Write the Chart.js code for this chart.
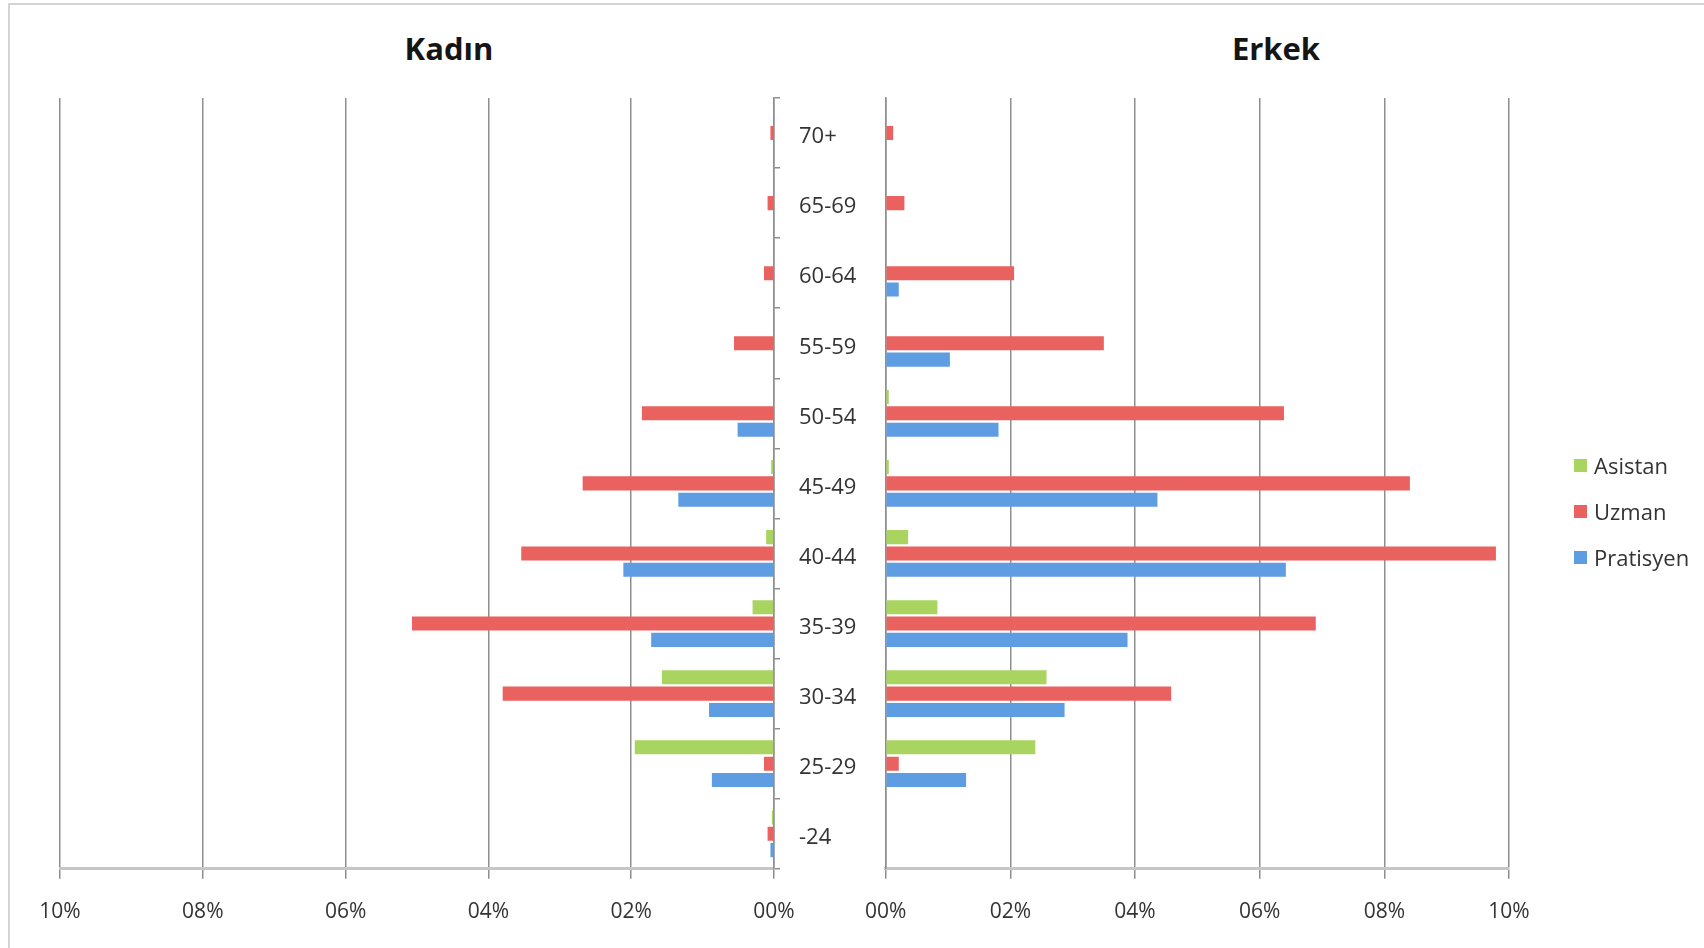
<!DOCTYPE html>
<html>
<head>
<meta charset="utf-8">
<script src="https://cdn.jsdelivr.net/npm/chart.js@4.4.1/dist/chart.umd.min.js"></script>
<style>
  html, body { margin: 0; padding: 0; background: #fff; }
  body { width: 1704px; height: 948px; position: relative; overflow: hidden; font-family: 'Open Sans', sans-serif; }
  .frame { position: absolute; left: 8px; top: 3px; width: 1800px; height: 1000px; border-top: 2px solid #d4d4d4; border-left: 2px solid #d4d4d4; }
  canvas { position: absolute; top: 0; }
  .title { position: absolute; top: 28px; width: 200px; text-align: center; font-size: 31px; font-weight: bold; color: #151515; line-height: 40px; }
  #legend { position: absolute; left: 1574px; top: 451px; }
  #legend div { height: 46px; line-height: 28px; font-size: 22px; color: #333; white-space: nowrap; }
  #legend span { display: inline-block; width: 13px; height: 13px; margin-right: 7px; vertical-align: 2px; }
</style>
</head>
<body>
<div class="frame"></div>
<div class="title" style="left:349px">Kadın</div>
<div class="title" style="left:1176px">Erkek</div>
<canvas id="kadin" width="898" height="948" style="left:0"></canvas>
<canvas id="erkek" width="860" height="948" style="left:844px"></canvas>
<div id="legend"></div>
<script>
// yaş grupları (yukarıdan aşağıya)
const ageGroups = ['70+', '65-69', '60-64', '55-59', '50-54', '45-49', '40-44', '35-39', '30-34', '25-29', '-24'];
const seriesNames = ['Asistan', 'Uzman', 'Pratisyen'];
const seriesColors = ['#a8d45f', '#e9625f', '#5f9de2'];

// Kadın (%)
const kadinAsistan   = [0,    0,    0,    0,    0,    0.04, 0.11, 0.30, 1.57, 1.95, 0.03];
const kadinUzman     = [0.05, 0.09, 0.14, 0.56, 1.85, 2.68, 3.54, 5.07, 3.80, 0.14, 0.09];
const kadinPratisyen = [0,    0,    0,    0,    0.51, 1.34, 2.11, 1.72, 0.91, 0.87, 0.05];

// Erkek (%)
const erkekAsistan   = [0,    0,    0,    0,    0.05, 0.05, 0.36, 0.83, 2.58, 2.40, 0];
const erkekUzman     = [0.12, 0.30, 2.06, 3.50, 6.39, 8.41, 9.79, 6.90, 4.58, 0.21, 0];
const erkekPratisyen = [0,    0,    0.21, 1.03, 1.81, 4.36, 6.42, 3.88, 2.87, 1.29, 0];

const tickMax = 10;
const tickStep = 2;

Chart.defaults.font.family = "'Open Sans', sans-serif";
Chart.defaults.color = '#333';

const gridColor = '#8e8e8e';

function pct(v) {
  return String(v).padStart(2, '0') + '%';
}

function makeDatasets(a, u, p) {
  return [a, u, p].map((d, i) => ({
    label: seriesNames[i],
    data: d,
    backgroundColor: seriesColors[i],
    borderWidth: 0,
    categoryPercentage: 0.7,
    barPercentage: 0.86
  }));
}

function xScale(reverse) {
  return {
    reverse: reverse,
    min: 0,
    max: tickMax,
    ticks: { stepSize: tickStep, callback: pct, padding: 21, font: { size: 21 }, color: '#333' },
    grid: { color: gridColor, lineWidth: 1.5, tickLength: 10 },
    border: { color: '#c6c6c6', width: 3 }
  };
}

new Chart(document.getElementById('kadin'), {
  type: 'bar',
  data: { labels: ageGroups, datasets: makeDatasets(kadinAsistan, kadinUzman, kadinPratisyen) },
  options: {
    indexAxis: 'y',
    responsive: false,
    animation: false,
    layout: { padding: { left: 60, right: 0, top: 98, bottom: 2 } },
    plugins: { legend: { display: false }, tooltip: { enabled: false } },
    scales: {
      x: xScale(true),
      y: {
        position: 'right',
        grid: { drawOnChartArea: false, tickLength: 6, color: gridColor, lineWidth: 1.5 },
        border: { color: gridColor, width: 1.5 },
        ticks: { padding: 19, labelOffset: 4, font: { size: 22 }, color: '#333' },
        afterFit(s) { s.width = 124; }
      }
    }
  }
});

new Chart(document.getElementById('erkek'), {
  type: 'bar',
  data: { labels: ageGroups, datasets: makeDatasets(erkekAsistan, erkekUzman, erkekPratisyen) },
  options: {
    indexAxis: 'y',
    responsive: false,
    animation: false,
    layout: { padding: { left: 0, right: 195, top: 98, bottom: 2 } },
    plugins: { legend: { display: false }, tooltip: { enabled: false } },
    scales: {
      x: xScale(false),
      y: {
        position: 'left',
        grid: { drawOnChartArea: false, drawTicks: false },
        border: { color: gridColor, width: 1.5 },
        ticks: { display: false },
        afterFit(s) { s.width = 36; }
      }
    }
  }
});

// lejant
const legend = document.getElementById('legend');
seriesNames.forEach((name, i) => {
  const row = document.createElement('div');
  const box = document.createElement('span');
  box.style.background = seriesColors[i];
  row.appendChild(box);
  row.appendChild(document.createTextNode(name));
  legend.appendChild(row);
});
</script>
</body>
</html>
